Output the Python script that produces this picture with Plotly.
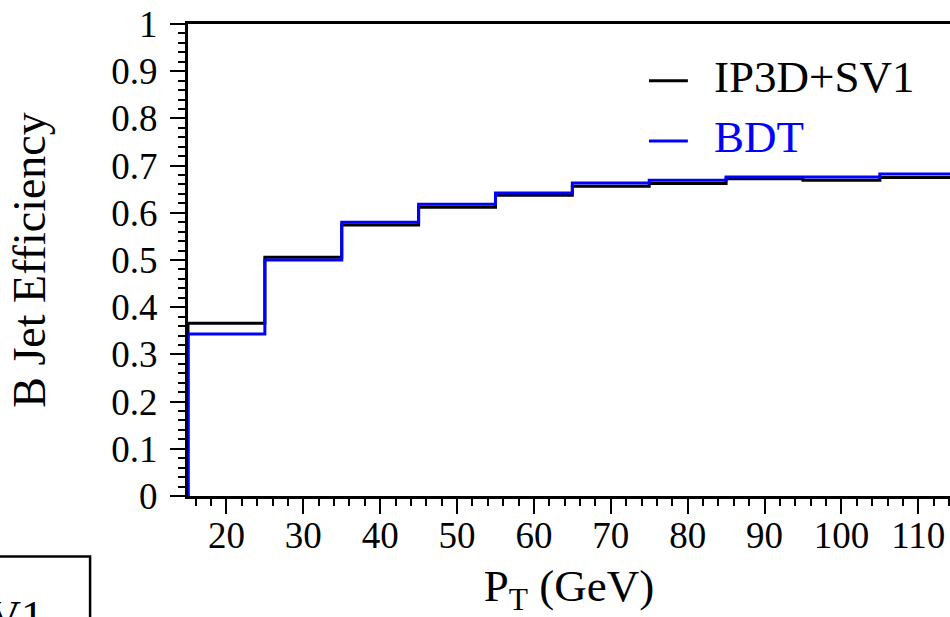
import plotly.graph_objects as go

# pT bin edges (GeV) and b-jet efficiency per bin
bin_edges = [15, 25, 35, 45, 55, 65, 75, 85, 95, 105, 115]
eff_ip3d_sv1 = [0.366, 0.506, 0.574, 0.612, 0.637, 0.656, 0.662, 0.672, 0.669, 0.675]
eff_bdt = [0.343, 0.500, 0.580, 0.618, 0.642, 0.663, 0.669, 0.676, 0.676, 0.682]

y_ticks = [0, 0.1, 0.2, 0.3, 0.4, 0.5, 0.6, 0.7, 0.8, 0.9, 1]
x_ticks = [20, 30, 40, 50, 60, 70, 80, 90, 100, 110]

FONT = "Liberation Serif"


def step_outline(edges, values):
    """Histogram outline: rise from zero at the first edge, fall at the last."""
    xs = [edges[0]] + list(edges) + [edges[-1]]
    ys = [0] + list(values) + [values[-1], 0]
    return xs, ys


fig = go.Figure()
for name, vals, col in [("IP3D+SV1", eff_ip3d_sv1, "black"), ("BDT", eff_bdt, "#0000ff")]:
    xs, ys = step_outline(bin_edges, vals)
    fig.add_trace(go.Scatter(x=xs, y=ys, mode="lines", name=name,
                             line=dict(color=col, width=3, shape="hv"),
                             showlegend=False, cliponaxis=True))

# legend drawn by hand: short line sample followed by coloured label
legend_rows = [("IP3D+SV1", "black", 0.880), ("BDT", "#0000ff", 0.752)]
for label, col, yp in legend_rows:
    fig.add_shape(type="line", xref="paper", yref="paper",
                  x0=0.605, x1=0.656, y0=yp, y1=yp,
                  line=dict(color=col, width=3))
    fig.add_annotation(text=label, xref="paper", yref="paper", x=0.688, y=yp + 0.008,
                       xanchor="left", yanchor="middle", showarrow=False,
                       font=dict(family=FONT, size=45, color=col))

# neighbouring pad's legend box peeking in at the lower left
fig.add_shape(type="rect", xref="paper", yref="paper",
              x0=-0.40, x1=-0.1285, y0=-0.50, y1=-0.1283,
              line=dict(color="black", width=2.5), fillcolor="rgba(0,0,0,0)")
fig.add_annotation(text="IP3D+SV1", xref="paper", yref="paper", x=-0.1880, y=-0.196,
                   xanchor="right", yanchor="top", showarrow=False,
                   font=dict(family=FONT, size=45, color="black"))

fig.update_layout(
    width=950, height=617,
    margin=dict(l=188, r=0, t=24, b=121),
    paper_bgcolor="white", plot_bgcolor="white",
    font=dict(family=FONT, color="black"),
)

fig.update_xaxes(
    range=[15, 114.13], tickvals=x_ticks, ticktext=[str(v) for v in x_ticks],
    showgrid=False, zeroline=False,
    showline=True, linecolor="black", linewidth=3, mirror=True,
    ticks="outside", ticklen=15, tickwidth=2, tickcolor="black",
    minor=dict(dtick=2, tick0=0, ticks="outside", ticklen=7, tickwidth=2, tickcolor="black"),
    tickfont=dict(family=FONT, size=37), ticklabelstandoff=-10,
    title=dict(text="P<sub>T</sub> (GeV)", font=dict(family=FONT, size=45), standoff=28),
    layer="below traces",
)
fig.update_yaxes(
    range=[0, 1], tickvals=y_ticks, ticktext=[f"{v:g}" for v in y_ticks],
    showgrid=False, zeroline=False,
    showline=True, linecolor="black", linewidth=3, mirror=False,
    ticks="outside", ticklen=15, tickwidth=2, tickcolor="black",
    minor=dict(dtick=0.02, tick0=0, ticks="outside", ticklen=7, tickwidth=2, tickcolor="black"),
    tickfont=dict(family=FONT, size=37), ticklabelstandoff=5,
    title=dict(text="B Jet Efficiency", font=dict(family=FONT, size=46), standoff=52),
    layer="below traces",
)

fig.write_html("out.html")
